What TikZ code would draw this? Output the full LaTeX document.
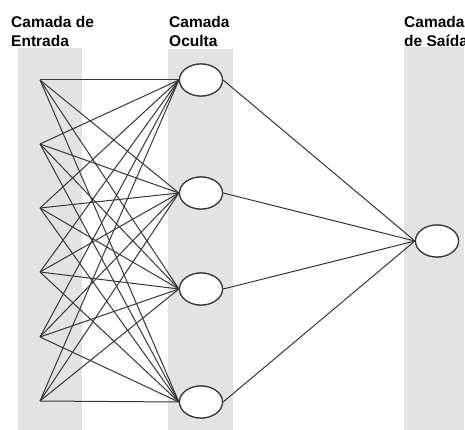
\documentclass[tikz,border=0pt]{standalone}
\usepackage{fontspec}
\setmainfont{Liberation Sans}
\usepackage{tikz}
\usetikzlibrary{shapes.geometric}

\definecolor{bandgray}{RGB}{227,227,227}
\definecolor{linegray}{RGB}{55,55,55}

\tikzset{
  band/.style={fill=bandgray,draw=none},
  neuron/.style={ellipse,draw=linegray,line width=1.2pt,fill=white,minimum width=43pt,minimum height=32pt,inner sep=0pt},
  link/.style={draw=linegray,line width=1pt},
  title/.style={anchor=base west,align=left,font=\bfseries\fontsize{15.5}{19}\selectfont,inner sep=0pt}
}

\begin{document}
\begin{tikzpicture}[x=1pt,y=-1pt]
        \clip (0,0) rectangle (465,430);
        \useasboundingbox (0,0) rectangle (465,430);
        \fill[white] (0,0) rectangle (465,430);
        \fill[band] (18,48) rectangle (82,430);
        \fill[band] (168,49) rectangle (233,430);
        \fill[band] (404,47) rectangle (464,430);
        \foreach \i/\y in {1/80,2/144,3/208,4/272,5/337,6/401}{\coordinate (in\i) at (40,\y);}
        \foreach \i/\y in {1/80,2/193,3/289,4/402}{\node[neuron] (hid\i) at (201,\y) {};}
        \node[neuron] (out) at (437,241) {};
        \foreach \i in {1,...,6}{\foreach \j in {1,...,4}{\draw[link] (in\i) -- (hid\j.west);}}
        \foreach \j in {1,...,4}{\draw[link] (hid\j.east) -- (out.west);}
        \foreach \j in {1,...,4}{\node[neuron] at (hid\j) {};}
        \node[neuron] at (out) {};
        \node[title] (lblin) at (11,46.5) {Camada de\\Entrada};
        \node[title] (lblhid) at (169,46.5) {Camada\\Oculta};
        \node[title] (lblout) at (404,46.5) {Camada\\de Saída};
    \end{tikzpicture}
\end{document}
